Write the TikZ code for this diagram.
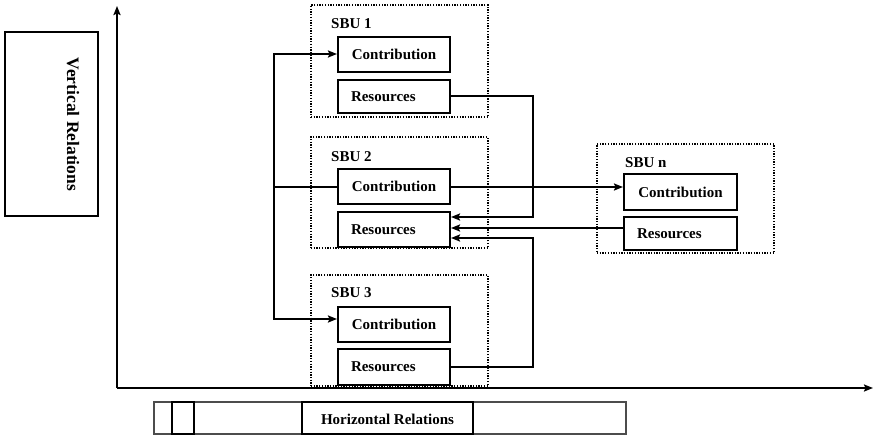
\documentclass[tikz,border=0pt]{standalone}
\usepackage{fontspec}
\setmainfont{Liberation Serif}
\usetikzlibrary{arrows.meta,calc}

\tikzset{
  x=1pt, y=-1pt,
  unitbox/.style={draw, line width=2pt, minimum width=112pt, minimum height=35pt,
    inner sep=0pt, font=\fontsize{15pt}{18pt}\selectfont\bfseries},
  sbubox/.style={draw, line width=1.5pt, dash pattern=on 1.3pt off 1.4pt,
    minimum width=177pt, inner sep=0pt},
  sbulabel/.style={anchor=west, inner sep=0pt, font=\fontsize{15pt}{18pt}\selectfont\bfseries},
  link/.style={line width=2pt},
  conn/.style={line width=2pt, -{Stealth[length=9pt,width=7pt,inset=1.5pt]}},
  axis/.style={line width=2pt, -{Stealth[length=9pt,width=7pt,inset=1.5pt]}},
  frame/.style={draw, line width=2pt, inner sep=0pt},
  thinframe/.style={draw=black!70, line width=2pt, inner sep=0pt},
  label/.style={inner sep=0pt, font=\fontsize{15pt}{18pt}\selectfont\bfseries}
}

\begin{document}
\begin{tikzpicture}
\useasboundingbox (0,0) rectangle (874,436);

% axes
\coordinate (origin) at (117,388);
\coordinate (ytop) at (117,6);
\coordinate (xend) at (873,388);
\draw[axis] (origin) -- (ytop);
\draw[axis] (origin) -- (xend);

% vertical relations panel
\node[frame, minimum width=93pt, minimum height=184pt] (vbox) at (51.5,124) {};
\node[label, font=\fontsize{17.5pt}{20pt}\selectfont\bfseries, rotate=-90] (vtext) at (73,124.5) {Vertical Relations};

% horizontal relations strip
\node[thinframe, minimum width=472pt, minimum height=32pt] (hbox) at (390,418) {};
\node[frame, minimum width=22pt, minimum height=32pt] (hcell) at (183,418) {};
\node[frame, minimum width=171pt, minimum height=32pt] (hrel) at (387.5,418) {};
\node[label] (htext) at (387.5,419) {Horizontal Relations};

% SBU frames
\node[sbubox, minimum height=112pt] (s1) at (399.5,61) {};
\node[sbubox, minimum height=111pt] (s2) at (399.5,192.5) {};
\node[sbubox, minimum height=111pt] (s3) at (399.5,330.5) {};
\node[sbubox, minimum height=109pt] (sn) at (685.5,198.5) {};

\node[sbulabel] (l1) at (331,24) {SBU 1};
\node[sbulabel] (l2) at (331,157) {SBU 2};
\node[sbulabel] (l3) at (331,293) {SBU 3};
\node[sbulabel] (ln) at (625,163) {SBU n};

% units inside each SBU
\node[unitbox] (c1) at (394,54.5) {Contribution};
\node[unitbox, minimum height=33pt, text width=86pt, align=left] (r1) at (394,96.5) {Resources};
\node[unitbox] (c2) at (394,186.5) {Contribution};
\node[unitbox, text width=86pt, align=left] (r2) at (394,229.5) {Resources};
\node[unitbox] (c3) at (394,324.5) {Contribution};
\node[unitbox, minimum height=36pt, text width=86pt, align=left] (r3) at (394,367) {Resources};
\node[unitbox, minimum width=113pt, minimum height=36pt] (cn) at (680.5,192) {Contribution};
\node[unitbox, minimum width=113pt, minimum height=33pt, text width=87pt, align=left] (rn) at (680.5,233.5) {Resources};

% connector buses and attachment points
\coordinate (lbus) at (274,0);
\coordinate (rbus) at (533,0);
\coordinate (c1in) at ($(c1.west)+(0,-0.5)$);
\coordinate (c2out) at ($(c2.west)+(0,0.5)$);
\coordinate (c2east) at ($(c2.east)+(0,0.5)$);
\coordinate (c3in) at ($(c3.west)+(0,-5.5)$);
\coordinate (r1out) at ($(r1.east)+(0,-0.5)$);
\coordinate (r2top) at ($(r2.east)+(0,-12.5)$);
\coordinate (r2mid) at ($(r2.east)+(0,-1.5)$);
\coordinate (r2bot) at ($(r2.east)+(0,8.5)$);

% contribution flows from SBU 2
\draw[link] (c2out) -- (c2out -| lbus);
\draw[conn] (c2out -| lbus) |- (c1in);
\draw[conn] (c2out -| lbus) |- (c3in);
\draw[conn] (c2east) -- (c2east -| cn.west);

% resource flows into SBU 2
\draw[conn] (r1out) -- (r1out -| rbus) |- (r2top);
\draw[conn] (r2mid -| rn.west) -- (r2mid);
\draw[conn] (r3.east) -- (r3.east -| rbus) |- (r2bot);
\end{tikzpicture}
\end{document}
